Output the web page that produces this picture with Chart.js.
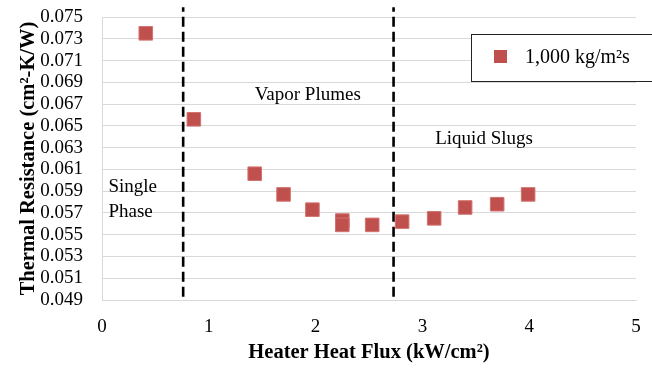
<!DOCTYPE html>
<html><head><meta charset="utf-8">
<script src="https://cdn.jsdelivr.net/npm/chart.js@4"></script>
<style>html,body{margin:0;padding:0;background:#fff}#wrap{width:652px;height:369px}</style>
</head><body><div id="wrap"><canvas id="c" width="652" height="369"></canvas></div>
<script>
const seriesLabel = '1,000 kg/m²s';
const heatFlux = [0.41, 0.86, 1.43, 1.70, 1.97, 2.25, 2.25, 2.53, 2.81, 3.11, 3.40, 3.70, 3.99];
const resistance = [0.0735, 0.0656, 0.0606, 0.0587, 0.0573, 0.0563, 0.0559, 0.0559, 0.0562, 0.0565, 0.0575, 0.0578, 0.0587];
const regimeBoundaries = [0.76, 2.73];
const boundaryYRange = [0.0493, 0.0759];
const regimeLabels = [
  {lines: ['Vapor Plumes'], x: 1.43, y: 0.0678},
  {lines: ['Liquid Slugs'], x: 3.12, y: 0.0638},
  {lines: ['Single', 'Phase'], x: 0.06, y: 0.0594}
];
const yTicks = [0.049,0.051,0.053,0.055,0.057,0.059,0.061,0.063,0.065,0.067,0.069,0.071,0.073,0.075];
const xTicks = [0,1,2,3,4,5];

const serif = "'Liberation Serif','Times New Roman',serif";

const datasets = [{
  label: seriesLabel,
  data: heatFlux.map((x,i)=>({x, y: resistance[i]})),
  pointStyle: 'rect',
  pointRadius: 9.6,
  pointHoverRadius: 9.6,
  backgroundColor: '#c0504d',
  borderColor: '#d27370',
  borderWidth: 1,
  showLine: false
}];
regimeBoundaries.forEach(b => datasets.push({
  label: 'boundary',
  data: [{x:b, y:boundaryYRange[0]}, {x:b, y:boundaryYRange[1]}],
  showLine: true,
  borderColor: '#000',
  borderWidth: 2.6,
  borderDash: [10, 5],
  pointRadius: 0,
  clip: false
}));

const annot = {
  id: 'annot',
  afterDatasetsDraw(chart) {
    const {ctx, scales:{x, y}} = chart;
    ctx.save();
    ctx.fillStyle = '#000';
    ctx.font = '19px ' + serif;
    ctx.textBaseline = 'middle';
    ctx.textAlign = 'left';
    regimeLabels.forEach(l => {
      const px = x.getPixelForValue(l.x), py = y.getPixelForValue(l.y);
      l.lines.forEach((t, i) => ctx.fillText(t, px, py + i*25));
    });
    // legend
    const ca = chart.chartArea;
    const bx = ca.right - 165, by = ca.top + 17, bw = 190, bh = 47;
    ctx.fillStyle = '#fff';
    ctx.fillRect(bx, by, bw, bh);
    ctx.strokeStyle = '#222';
    ctx.lineWidth = 1;
    ctx.strokeRect(bx + 0.5, by + 0.5, bw, bh);
    const ds = chart.data.datasets[0];
    ctx.fillStyle = ds.backgroundColor;
    ctx.fillRect(bx + 23, by + 16, 13, 13);
    ctx.fillStyle = '#000';
    ctx.font = '20px ' + serif;
    ctx.fillText(ds.label, bx + 54, by + 24);
    ctx.restore();
  }
};

new Chart(document.getElementById('c'), {
  type: 'scatter',
  data: { datasets },
  options: {
    responsive: false,
    animation: false,
    layout: { autoPadding: false, padding: { top: 17, right: 16, left: 0, bottom: 0 } },
    plugins: { legend: { display: false }, tooltip: { enabled: false } },
    scales: {
      x: {
        type: 'linear', min: 0, max: 5,
        afterBuildTicks: s => { s.ticks = xTicks.map(v => ({value: v})); },
        afterFit: s => { s.height = 69; },
        grid: { display: true, drawOnChartArea: false, drawTicks: true, tickLength: 16, tickColor: 'rgba(0,0,0,0)' },
        border: { display: true, color: '#d9d9d9', width: 1 },
        ticks: { color: '#000', font: { family: serif, size: 19 }, padding: 0, maxRotation: 0 },
        title: { display: true, text: 'Heater Heat Flux (kW/cm²)', color: '#000',
                 font: { family: serif, size: 20.5, weight: 'bold' }, padding: { top: 4 } }
      },
      y: {
        type: 'linear', min: 0.049, max: 0.075,
        afterBuildTicks: s => { s.ticks = yTicks.map(v => ({value: v})); },
        afterFit: s => { s.width = 102; },
        grid: { color: '#d9d9d9', drawTicks: true, tickLength: 19, tickColor: 'rgba(0,0,0,0)' },
        border: { display: true, color: '#d9d9d9' },
        ticks: { color: '#000', font: { family: serif, size: 19 }, padding: 0, autoSkip: false,
                 callback: v => v.toFixed(3) },
        title: { display: true, text: 'Thermal Resistance (cm²-K/W)', color: '#000',
                 font: { family: serif, size: 20.5, weight: 'bold' }, padding: { top: 16, bottom: 0 } }
      }
    }
  },
  plugins: [annot]
});
</script></body></html>
